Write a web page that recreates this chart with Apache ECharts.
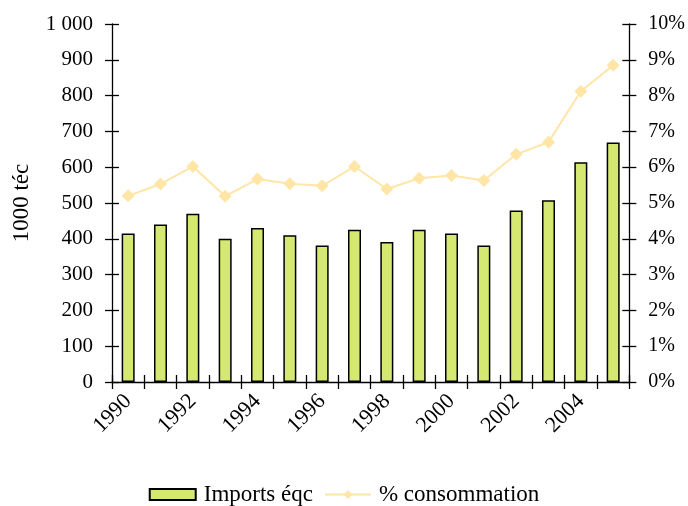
<!DOCTYPE html>
<html>
<head>
<meta charset="utf-8">
<script src="https://cdn.jsdelivr.net/npm/echarts@6/dist/echarts.min.js"></script>
<style>
  html, body { margin: 0; padding: 0; background: #ffffff; }
  #chart { width: 688px; height: 506px; }
</style>
</head>
<body>
<div id="chart"></div>
<script>
// Years on the category axis
const years = ['1990','1991','1992','1993','1994','1995','1996','1997',
               '1998','1999','2000','2001','2002','2003','2004','2005'];
// Imports, thousand tonnes coal equivalent
const imports = [415, 440, 470, 400, 430, 410, 381, 425,
                 391, 425, 415, 381, 479, 508, 614, 669];
// Share of consumption, percent
const shareConsumption = [5.2, 5.53, 6.02, 5.19, 5.67, 5.54, 5.48, 6.02,
                          5.39, 5.69, 5.77, 5.63, 6.36, 6.70, 8.12, 8.85];

const FONT = 'Liberation Serif';
const tickTxt = { color: '#000', fontFamily: FONT, fontSize: 20 };
const bigTxt = { color: '#000', fontFamily: FONT, fontSize: 23 };

const chart = echarts.init(document.getElementById('chart'), null, { renderer: 'canvas' });

const axisLineStyle = { show: true, lineStyle: { color: '#000', width: 1.3 } };
const hiddenLine = { show: true, lineStyle: { color: 'rgba(0,0,0,0)', width: 1 } };
const tickStyle = { color: '#000', width: 1.3 };

chart.setOption({
  animation: false,
  backgroundColor: '#ffffff',
  grid: { left: 112, right: 56, top: 24, bottom: 124 },
  legend: {
    top: 478,
    left: 'center',
    itemWidth: 46,
    itemHeight: 11,
    itemGap: 11,
    textStyle: { ...bigTxt, padding: [0, 0, 0, 3] },
    data: [
      { name: 'Imports éqc', icon: 'rect' },
      { name: '% consommation' }
    ]
  },
  xAxis: [
    {
      type: 'category',
      data: years,
      position: 'bottom',
      axisLine: axisLineStyle,
      axisTick: { show: true, inside: false, length: 7, interval: 0, lineStyle: tickStyle },
      axisLabel: { ...tickTxt, fontSize: 22, interval: 1, rotate: 45, margin: 16 },
      splitLine: { show: false }
    },
    {
      type: 'category',
      data: years,
      position: 'bottom',
      axisLine: hiddenLine,
      axisTick: { show: true, inside: true, length: 7, interval: 0, lineStyle: tickStyle },
      axisLabel: { show: false },
      splitLine: { show: false }
    }
  ],
  yAxis: [
    {
      type: 'value',
      position: 'left',
      min: 0, max: 1000, interval: 100,
      name: '1000 téc',
      nameLocation: 'middle',
      nameGap: 79,
      nameRotate: 90,
      nameTextStyle: bigTxt,
      axisLine: axisLineStyle,
      axisTick: { show: true, inside: false, length: 7, lineStyle: tickStyle },
      axisLabel: {
        ...tickTxt, fontSize: 21, margin: 19,
        formatter: v => String(v).replace(/\B(?=(\d{3})+(?!\d))/g, ' ')
      },
      splitLine: { show: false }
    },
    {
      type: 'value',
      position: 'right',
      min: 0, max: 10, interval: 1,
      axisLine: axisLineStyle,
      axisTick: { show: true, inside: false, length: 7, lineStyle: tickStyle },
      axisLabel: { ...tickTxt, margin: 19, formatter: v => v + '%' },
      splitLine: { show: false }
    },
    {
      type: 'value',
      position: 'left',
      min: 0, max: 1000, interval: 100,
      axisLine: hiddenLine,
      axisTick: { show: true, inside: true, length: 7, lineStyle: tickStyle },
      axisLabel: { show: false },
      splitLine: { show: false }
    },
    {
      type: 'value',
      position: 'right',
      min: 0, max: 10, interval: 1,
      axisLine: hiddenLine,
      axisTick: { show: true, inside: true, length: 7, lineStyle: tickStyle },
      axisLabel: { show: false },
      splitLine: { show: false }
    }
  ],
  series: [
    {
      name: 'Imports éqc',
      type: 'bar',
      xAxisIndex: 0,
      yAxisIndex: 0,
      data: imports,
      barWidth: 13,
      itemStyle: { color: '#d4e872', borderColor: '#000', borderWidth: 1.5 },
      z: 2
    },
    {
      name: '% consommation',
      type: 'line',
      xAxisIndex: 0,
      yAxisIndex: 1,
      data: shareConsumption,
      symbol: 'diamond',
      symbolSize: 13,
      lineStyle: { color: '#ffe6a6', width: 2 },
      itemStyle: { color: '#ffe6a6' },
      z: 3
    }
  ]
});
</script>
</body>
</html>
